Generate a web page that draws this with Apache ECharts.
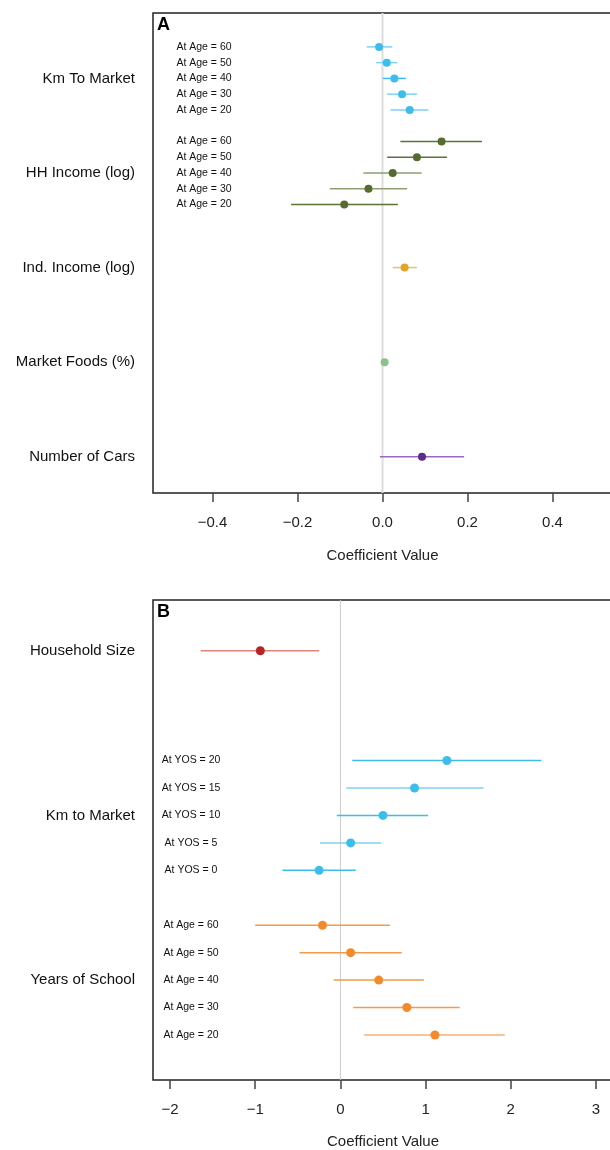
<!DOCTYPE html>
<html>
<head>
<meta charset="utf-8">
<script src="https://cdn.jsdelivr.net/npm/echarts@6/dist/echarts.min.js"></script>
<style>
html,body{margin:0;padding:0;background:#fff;}
#chart{width:610px;height:1150px;}
</style>
</head>
<body>
<div id="chart"></div>
<script>
// ---------- Panel A data ----------
const groupsA = ['Km To Market', 'HH Income (log)', 'Ind. Income (log)', 'Market Foods (%)', 'Number of Cars'];
const ageLabels = ['At Age = 60', 'At Age = 50', 'At Age = 40', 'At Age = 30', 'At Age = 20'];

const kmA_est = [-0.008, 0.010, 0.028, 0.046, 0.064];
const kmA_lo  = [-0.037, -0.015, 0.001, 0.011, 0.019];
const kmA_hi  = [0.023, 0.035, 0.055, 0.081, 0.108];

const hhA_est = [0.139, 0.081, 0.024, -0.033, -0.090];
const hhA_lo  = [0.042, 0.011, -0.045, -0.124, -0.215];
const hhA_hi  = [0.234, 0.152, 0.092, 0.058, 0.036];

const indA_est = [0.052];
const indA_lo  = [0.024];
const indA_hi  = [0.081];

const mktA_est = [0.005];
const mktA_lo  = [0.003];
const mktA_hi  = [0.007];

const carsA_est = [0.093];
const carsA_lo  = [-0.006];
const carsA_hi  = [0.192];

const ticksA = [-0.4, -0.2, 0.0, 0.2, 0.4];

// ---------- Panel B data ----------
const groupsB = ['Household Size', 'Km to Market', 'Years of School'];
const yosLabels = ['At YOS = 20', 'At YOS = 15', 'At YOS = 10', 'At YOS = 5', 'At YOS = 0'];

const hhsB_est = [-0.94];
const hhsB_lo  = [-1.64];
const hhsB_hi  = [-0.25];

const kmB_est = [1.25, 0.87, 0.50, 0.12, -0.25];
const kmB_lo  = [0.14, 0.07, -0.04, -0.24, -0.68];
const kmB_hi  = [2.36, 1.68, 1.03, 0.48, 0.18];

const ysB_est = [-0.21, 0.12, 0.45, 0.78, 1.11];
const ysB_lo  = [-1.00, -0.48, -0.08, 0.15, 0.28];
const ysB_hi  = [0.58, 0.72, 0.98, 1.40, 1.93];

const ticksB = [-2, -1, 0, 1, 2, 3];

// ---------- styles ----------
const FONT = "'Liberation Sans', Arial, sans-serif";
const C = {
  blue: '#3DBDEC', blueLine: ['#7ED2F2', '#7ED2F2', '#3DBDEC', '#7ED2F2', '#7ED2F2'],
  olive: '#556B2F', oliveLine: ['#5C7337', '#5C7337', '#8E9F70', '#8E9F70', '#5C7337'],
  gold: '#E2A52A', goldLine: '#EDBE72',
  green: '#8CC18C', greenLine: '#8CC18C',
  purple: '#5C2A88', purpleLine: '#9A68C4',
  red: '#B62525', redLine: '#DE8578',
  blueB: '#3DBDEC', blueBLine: ['#3DBDEC', '#7ED2F2', '#3DBDEC', '#7ED2F2', '#3DBDEC'],
  orange: '#F58A2A', orangeLine: ['#F59A48', '#F59A48', '#F59A48', '#F59A48', '#F7B070']
};

// ---------- build ----------
const series = [];
const outerLabelsA = {}, innerLabelsA = {};
const outerLabelsB = {}, innerLabelsB = {};

function zeroLine(gi, ymin, ymax, color, width) {
  series.push({
    type: 'custom', xAxisIndex: gi, yAxisIndex: gi * 2, silent: true, z: 1,
    data: [[0]],
    renderItem: function (params, api) {
      const p1 = api.coord([api.value(0), ymin]);
      const p2 = api.coord([api.value(0), ymax]);
      return { type: 'line', shape: { x1: p1[0], y1: p1[1], x2: p2[0], y2: p2[1] },
               style: { stroke: color, lineWidth: width } };
    }
  });
}

function addGroup(gi, ys, est, lo, hi, ptColor, lineColor, lineW, symSize) {
  const ciData = ys.map((y, i) => [lo[i], hi[i], y, i]);
  series.push({
    type: 'custom', xAxisIndex: gi, yAxisIndex: gi * 2, silent: true, z: 2,
    encode: { x: [0, 1], y: 2 },
    data: ciData,
    renderItem: function (params, api) {
      const i = api.value(3);
      const p1 = api.coord([api.value(0), api.value(2)]);
      const p2 = api.coord([api.value(1), api.value(2)]);
      const col = Array.isArray(lineColor) ? lineColor[i] : lineColor;
      return { type: 'line', shape: { x1: p1[0], y1: p1[1], x2: p2[0], y2: p2[1] },
               style: { stroke: col, lineWidth: lineW } };
    }
  });
  series.push({
    type: 'scatter', xAxisIndex: gi, yAxisIndex: gi * 2, silent: true, z: 3,
    symbol: 'circle', symbolSize: symSize,
    itemStyle: { color: ptColor, opacity: 1 },
    data: ys.map((y, i) => [est[i], y])
  });
}

function rowsFor(center, n) {
  if (n === 1) return [center];
  const arr = [];
  for (let i = 0; i < n; i++) arr.push(center + (n - 1) / 2 - i);
  return arr;
}
const centersA = groupsA.map((g, i) => (groupsA.length - 1 - i) * 6);
groupsA.forEach((g, i) => { outerLabelsA[centersA[i]] = g; });

zeroLine(0, -2.3, 28.15, '#DDDDDD', 2);
const kmRowsA = rowsFor(centersA[0], 5);
const hhRowsA = rowsFor(centersA[1], 5);
kmRowsA.forEach((y, i) => { innerLabelsA[y] = ageLabels[i]; });
hhRowsA.forEach((y, i) => { innerLabelsA[y] = ageLabels[i]; });
addGroup(0, kmRowsA, kmA_est, kmA_lo, kmA_hi, C.blue, C.blueLine, 1.5, 8);
addGroup(0, hhRowsA, hhA_est, hhA_lo, hhA_hi, C.olive, C.oliveLine, 1.5, 8);
addGroup(0, [centersA[2]], indA_est, indA_lo, indA_hi, C.gold, C.goldLine, 1.5, 8);
addGroup(0, [centersA[3]], mktA_est, mktA_lo, mktA_hi, C.green, C.greenLine, 1.5, 8);
addGroup(0, [centersA[4]], carsA_est, carsA_lo, carsA_hi, C.purple, C.purpleLine, 1.5, 8);

const centersB = [14, 8, 2];
groupsB.forEach((g, i) => { outerLabelsB[centersB[i]] = g; });
zeroLine(1, -1.64, 15.85, '#CCCCCC', 1);
const kmRowsB = rowsFor(centersB[1], 5);
const ysRowsB = rowsFor(centersB[2], 5);
kmRowsB.forEach((y, i) => { innerLabelsB[y] = yosLabels[i]; });
ysRowsB.forEach((y, i) => { innerLabelsB[y] = ageLabels[i]; });
addGroup(1, [centersB[0]], hhsB_est, hhsB_lo, hhsB_hi, C.red, C.redLine, 1.5, 9);
addGroup(1, kmRowsB, kmB_est, kmB_lo, kmB_hi, C.blueB, C.blueBLine, 1.5, 9);
addGroup(1, ysRowsB, ysB_est, ysB_lo, ysB_hi, C.orange, C.orangeLine, 1.5, 9);

function fmtNum(v, dec) {
  const s = Math.abs(v).toFixed(dec);
  return (v < 0 ? '\u2212' : '') + s;
}

function xAxisCfg(gi, min, max, ticks, dec, gap) {
  return {
    type: 'value', gridIndex: gi, min: min, max: max, position: 'bottom',
    name: 'Coefficient Value', nameLocation: 'middle', nameGap: gap,
    nameTextStyle: { fontFamily: FONT, fontSize: 15, color: '#222' },
    axisLine: { show: false, onZero: false },
    splitLine: { show: false },
    axisTick: { show: true, customValues: ticks, length: 9, inside: false,
                lineStyle: { color: '#444', width: 1.5 } },
    axisLabel: { customValues: ticks, margin: 22, fontFamily: FONT, fontSize: 15, color: '#222',
                 formatter: v => fmtNum(v, dec) }
  };
}

function yAxesCfg(gi, min, max, outer, inner, innerMargin) {
  const outerVals = Object.keys(outer).map(Number);
  const innerVals = Object.keys(inner).map(Number);
  return [
    {
      type: 'value', gridIndex: gi, min: min, max: max, position: 'left',
      axisLine: { show: false, onZero: false }, axisTick: { show: false }, splitLine: { show: false },
      axisLabel: { customValues: outerVals, margin: 18, fontFamily: FONT, fontSize: 15, color: '#111',
                   formatter: v => outer[v] || '' }
    },
    {
      type: 'value', gridIndex: gi, min: min, max: max, position: 'left', offset: 0,
      axisLine: { show: false, onZero: false }, axisTick: { show: false }, splitLine: { show: false },
      axisLabel: { inside: true, customValues: innerVals, margin: innerMargin, align: 'center',
                   fontFamily: FONT, fontSize: 10.5, color: '#111',
                   formatter: v => inner[v] || '' }
    }
  ];
}

const option = {
  animation: false,
  backgroundColor: '#fff',
  title: [
    { text: 'A', left: 157, top: 16, padding: 0,
      textStyle: { fontFamily: FONT, fontSize: 18, fontWeight: 'bold', color: '#000' } },
    { text: 'B', left: 157, top: 603, padding: 0,
      textStyle: { fontFamily: FONT, fontSize: 18, fontWeight: 'bold', color: '#000' } }
  ],
  grid: [
    { left: 153, top: 13, width: 459, height: 480, show: true, borderColor: '#222', borderWidth: 1.5,
      backgroundColor: 'transparent', containLabel: false, outerBoundsMode: 'none' },
    { left: 153, top: 600, width: 460, height: 480, show: true, borderColor: '#222', borderWidth: 1.5,
      backgroundColor: 'transparent', containLabel: false, outerBoundsMode: 'none' }
  ],
  xAxis: [
    xAxisCfg(0, -0.54, 0.54, ticksA, 1, 55),
    xAxisCfg(1, -2.2, 3.2, ticksB, 0, 54)
  ],
  yAxis: [].concat(
    yAxesCfg(0, -2.3, 28.15, outerLabelsA, innerLabelsA, 51),
    yAxesCfg(1, -1.64, 15.85, outerLabelsB, innerLabelsB, 38)
  ),
  series: series
};

const chart = echarts.init(document.getElementById('chart'), null, { renderer: 'canvas' });
chart.setOption(option);
</script>
</body>
</html>
